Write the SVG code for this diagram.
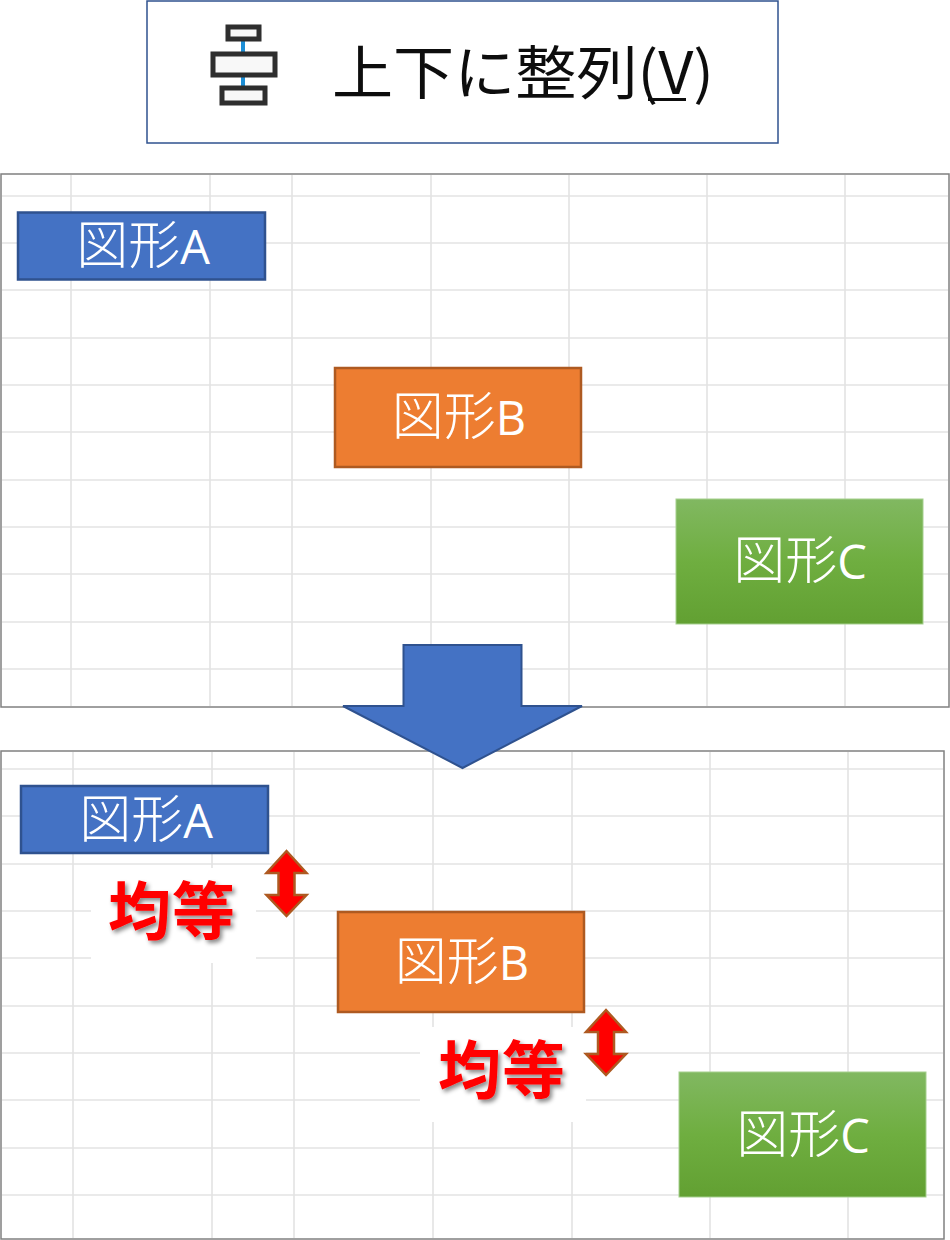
<svg xmlns="http://www.w3.org/2000/svg" width="950" height="1240" viewBox="0 0 950 1240">
<defs>
<linearGradient id="gc" x1="0" y1="0" x2="0" y2="1"><stop offset="0" stop-color="#81b861"/><stop offset="0.5" stop-color="#6fae40"/><stop offset="1" stop-color="#62a032"/></linearGradient>
<filter id="sh" x="-10%" y="-10%" width="125%" height="125%"><feDropShadow dx="2.500" dy="3" stdDeviation="2" flood-color="#000" flood-opacity="0.45"/></filter>
<filter id="soft" x="-5%" y="-5%" width="110%" height="110%"><feGaussianBlur stdDeviation="0.7"/></filter>
<path id="dbl" d="M0 0L20 22H8V44H20L0 65L-20 44H-8V22H-20Z" class="updown"/>
</defs>
<style>
.panel{fill:#fff;stroke:#808080;stroke-width:1.5}
.grid{fill:none;stroke:#e4e4e4;stroke-width:1.7}
.a{fill:#4472c4;stroke:#2f528f;stroke-width:2.500}
.b{fill:#ed7d31;stroke:#ae5a21;stroke-width:2.500}
.c{fill:url(#gc);stroke:#a5cf8e;stroke-width:1}
.lab{font-family:"Noto Sans CJK JP","Open Sans",sans-serif;font-size:52px;font-weight:300;fill:#fff;text-anchor:middle}
.lat{font-family:"Open Sans",sans-serif;font-weight:400;font-size:47px}
.eq{font-family:"Noto Sans CJK JP",sans-serif;font-size:63px;font-weight:700;fill:#f00;text-anchor:middle;letter-spacing:1px;filter:url(#sh)}
.updown{fill:#f00;stroke:#ae5a21;stroke-width:2.500}
.ic{fill:#f8f8f8;stroke:#2e2e2e;stroke-width:5}
</style>

<g id="toolbar">
<rect x="147" y="1" width="631" height="142" fill="#fff" stroke="#2f528f" stroke-width="1.5"/>
<g id="toolbar-icon" filter="url(#soft)">
<path d="M243 40V52M243 76V87" stroke="#1c8ed6" stroke-width="4" fill="none"/>
<rect class="ic" x="228" y="27" width="31" height="12"/>
<rect class="ic" x="213" y="54" width="62" height="21"/>
<rect class="ic" x="222" y="88" width="43" height="15"/>
</g>
<g filter="url(#soft)">
<text x="332" y="94" font-family="'Noto Sans CJK JP',sans-serif" font-size="58" font-weight="400" fill="#111" textLength="382" lengthAdjust="spacingAndGlyphs">上下に整列(V)</text>
<rect x="648" y="98" width="38" height="3" fill="#111"/>
</g>
</g>

<g id="panel-before">
<rect class="panel" x="1" y="174" width="948" height="533"/>
<path class="grid" d="M71 175V706M210 175V706M292 175V706M431 175V706M569 175V706M707 175V706M845 175V706M2 196H948M2 243H948M2 290H948M2 338H948M2 385H948M2 432H948M2 480H948M2 527H948M2 574H948M2 622H948M2 669H948"/>
</g>

<g id="panel-after">
<rect class="panel" x="1" y="751" width="943" height="488"/>
<path class="grid" d="M73 752V1238M212 752V1238M294 752V1238M433 752V1238M572 752V1238M710 752V1238M848 752V1238M2 769H943M2 816H943M2 864H943M2 911H943M2 958H943M2 1006H943M2 1053H943M2 1100H943M2 1148H943M2 1195H943"/>
</g>

<g id="shape-a-before"><rect class="a" x="18" y="212.500" width="247" height="67"/><text class="lab" x="143" y="264">図形<tspan class="lat">A</tspan></text></g>
<g id="shape-b-before"><rect class="b" x="335" y="368" width="246" height="99"/><text class="lab" x="459" y="435">図形<tspan class="lat">B</tspan></text></g>
<g id="shape-c-before"><rect class="c" x="676" y="499" width="247" height="125"/><text class="lab" x="800" y="579">図形<tspan class="lat">C</tspan></text></g>

<g id="big-arrow"><path d="M403.500 645H521.500V706H582L462.500 768L343 706H403.500Z" fill="#4472c4" stroke="#2f528f" stroke-width="2"/></g>

<g id="shape-a-after"><rect class="a" x="21" y="786" width="247" height="67"/><text class="lab" x="146" y="838">図形<tspan class="lat">A</tspan></text></g>
<g id="shape-b-after"><rect class="b" x="338" y="912" width="246" height="100"/><text class="lab" x="462" y="980">図形<tspan class="lat">B</tspan></text></g>
<g id="shape-c-after"><rect class="c" x="679" y="1072" width="247" height="125"/><text class="lab" x="803" y="1153">図形<tspan class="lat">C</tspan></text></g>

<g id="equal-1"><rect x="91" y="868" width="165" height="95" fill="#fff"/><text class="eq" x="172" y="934">均等</text></g>
<g id="equal-2"><rect x="420" y="1027" width="166" height="95" fill="#fff"/><text class="eq" x="502" y="1093">均等</text></g>

<g id="updown-1"><use href="#dbl" x="286.500" y="851"/></g>
<g id="updown-2"><use href="#dbl" x="606" y="1010"/></g>
</svg>
